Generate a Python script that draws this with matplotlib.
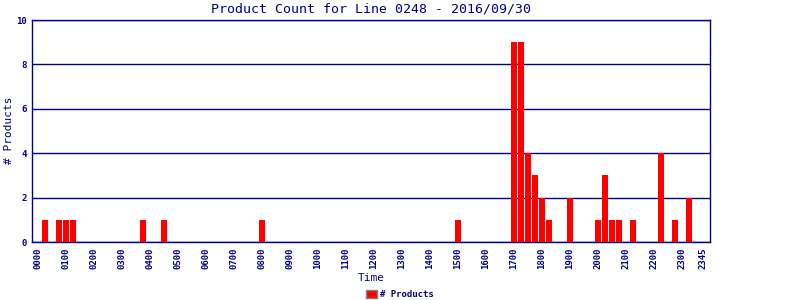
import matplotlib
matplotlib.use("Agg")
import matplotlib.pyplot as plt
import numpy as np

# ---------- data ----------
# 15 minute slots over the day, index 0 = 0000, 95 = 2345
slots = [1, 3, 4, 5, 15, 18, 32, 60, 68, 69, 70, 71, 72, 73, 76,
         80, 81, 82, 83, 85, 89, 91, 93]
counts = [1, 1, 1, 1, 1, 1, 1, 1, 9, 9, 4, 3, 2, 1, 2,
          1, 3, 1, 1, 1, 4, 1, 2]
tick_slots = list(range(0, 96, 4)) + [95]
tick_labels = ["%02d00" % h for h in range(24)] + ["2345"]
y_ticks = [0, 2, 4, 6, 8, 10]

navy = "#000080"
mono = "DejaVu Sans Mono"

fig = plt.figure(figsize=(8, 3), dpi=100)
ax = fig.add_axes([0.04, 0.1933, 0.8475, 0.74])

ax.bar(np.array(slots) + 0.1, counts, width=0.82, color="red",
       label="# Products", zorder=3)

ax.set_xlim(-0.8, 96.05)
ax.set_ylim(0, 10)
ax.set_yticks(y_ticks)
ax.set_yticklabels([str(v) for v in y_ticks], fontsize=6.5, color=navy,
                   family=mono, fontweight="bold")
ax.set_xticks(tick_slots)
ax.set_xticklabels(tick_labels, rotation=90, fontsize=6.5, color=navy,
                   family=mono, fontweight="bold")
ax.tick_params(length=0, pad=4)
ax.yaxis.grid(True, color=navy, linewidth=1.0, zorder=1)
for s in ax.spines.values():
    s.set_color(navy)
    s.set_linewidth(1.0)

fig.text(0.4638, 0.97, "Product Count for Line 0248 - 2016/09/30",
         ha="center", va="center", fontsize=9.5, color=navy, family=mono)
fig.text(0.4638, 0.073, "Time", ha="center", va="center", fontsize=8,
         color=navy, family=mono)
fig.text(0.011, 0.5667, "# Products", ha="center", va="center", fontsize=8,
         color=navy, family=mono, rotation=90)

leg = fig.legend(loc="center", bbox_to_anchor=(0.50, 0.018), frameon=False,
                 fontsize=6.5, handlelength=1.2, handleheight=1.0,
                 handletextpad=0.3, borderpad=0)
for h in leg.legend_handles:
    h.set_edgecolor("gray")
for t in leg.get_texts():
    t.set_color(navy)
    t.set_family(mono)
    t.set_fontweight("bold")

fig.savefig("out.png", dpi=100)
